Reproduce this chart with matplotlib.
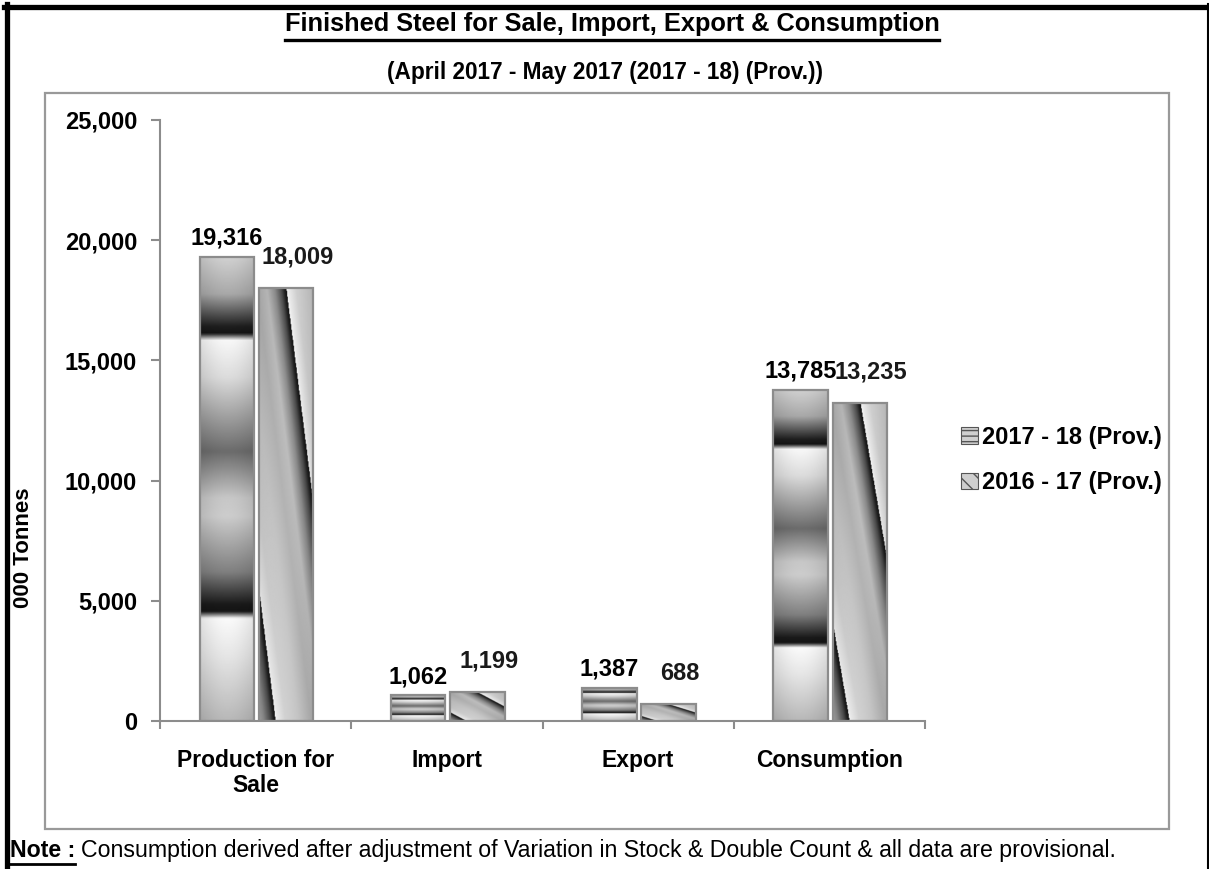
import numpy as np
import matplotlib
matplotlib.use('Agg')
import matplotlib.pyplot as plt
from matplotlib.patches import Rectangle, Patch
from matplotlib.lines import Line2D

# data
categories = ['Production for\nSale', 'Import', 'Export', 'Consumption']
series_names = ['2017 - 18 (Prov.)', '2016 - 17 (Prov.)']
vals_1718 = [19316, 1062, 1387, 13785]
vals_1617 = [18009, 1199, 688, 13235]
yticks = [0, 5000, 10000, 15000, 20000, 25000]

plt.rcParams['font.family'] = ['Liberation Sans Narrow', 'Liberation Sans', 'DejaVu Sans']
plt.rcParams['font.weight'] = 'bold'

W, H = 1209, 869
fig = plt.figure(figsize=(W / 100, H / 100), dpi=100)
ax = fig.add_axes([160 / W, 1 - 721 / H, (925 - 160) / W, (721 - 120) / H])


# metallic shading of the bars (style only)
def band_profile(t):
    kp = [0, .08, .15, .165, .18, .26, .42, .52, .56, .68, .75, .765, .78, .86, 1]
    gv = [.82, .66, .12, .08, .97, .86, .42, .78, .8, .5, .1, .08, .98, .9, .72]
    return np.interp(t, kp, gv)


def stripe_profile(p):
    kp = [0, .03, .15, .35, .55, .7, .82, .92, .97, 1]
    gv = [.97, .92, .82, .78, .7, .74, .55, .3, .12, .08]
    return np.interp(p, kp, gv)


t = np.linspace(0, 1, 300)[:, None]
s = np.linspace(0, 1, 80)[None, :]
img_a = band_profile(t) * (0.9 + 0.1 * np.sin(np.pi * s))
img_b = stripe_profile(((s - t - 0.5) / 1.2) % 1) * (0.92 + 0.08 * np.sin(np.pi * s))

x = np.arange(len(categories))
bw = 0.285
offs = [-0.15, 0.16]
edge = '#8c8c8c'

for vals, off, img in [(vals_1718, offs[0], img_a), (vals_1617, offs[1], img_b)]:
    bars = ax.bar(x + off, vals, bw, facecolor='none', edgecolor=edge, linewidth=1.6, zorder=3)
    for b in bars:
        x0, w, h = b.get_x(), b.get_width(), b.get_height()
        im = ax.imshow(img, cmap='gray', vmin=0, vmax=1, aspect='auto',
                       extent=(x0, x0 + w, 0, h), origin='upper', zorder=2,
                       interpolation='bilinear')
        im.set_clip_path(b)

# data labels
for i, v in enumerate(vals_1718):
    ax.annotate(f'{v:,}', (x[i] + offs[0], v), xytext=(0, 5), textcoords='offset points',
                ha='center', va='bottom', fontsize=17)
for i, v in enumerate(vals_1617):
    ax.annotate(f'{v:,}', (x[i] + offs[1], v), xytext=(8, 14), textcoords='offset points',
                ha='center', va='bottom', fontsize=17, color='#1a1a1a')

ax.set_xlim(-0.5, len(categories) - 0.5)
ax.set_ylim(0, 25000)
ax.set_yticks(yticks)
ax.set_yticklabels([f'{v:,}' for v in yticks], fontsize=17)
ax.set_xticks(x)
ax.set_xticklabels(categories, fontsize=16.5, linespacing=1.1)
ax.set_xticks(np.arange(len(categories) + 1) - 0.5, minor=True)
ax.tick_params(axis='x', which='major', length=0, pad=20)
ax.tick_params(axis='x', which='minor', length=6, width=1.5, color=edge, direction='out')
ax.tick_params(axis='y', length=6.5, width=1.5, color=edge, direction='out', pad=10)
for sp in ['top', 'right']:
    ax.spines[sp].set_visible(False)
for sp in ['left', 'bottom']:
    ax.spines[sp].set_color(edge)
    ax.spines[sp].set_linewidth(1.5)
ax.set_facecolor('none')

fig.text(24 / W, 1 - 548 / H, '000 Tonnes', rotation=90, ha='center', va='center', fontsize=16)

# legend
handles = [Patch(facecolor='#cfcfcf', edgecolor='#555555', hatch='---', lw=0.8),
           Patch(facecolor='#cfcfcf', edgecolor='#555555', hatch='\\\\', lw=0.8)]
fig.legend(handles, series_names, loc='center left', bbox_to_anchor=(940 / W, 1 - 460 / H),
           frameon=False, fontsize=17, handlelength=0.7, handleheight=0.7,
           handletextpad=0.2, labelspacing=0.95)

# titles
title = fig.text(612 / W, 1 - 24 / H, 'Finished Steel for Sale, Import, Export & Consumption',
                 ha='center', va='center', fontsize=18.3)
fig.text(605 / W, 1 - 73 / H, '(April 2017 - May 2017 (2017 - 18) (Prov.))',
         ha='center', va='center', fontsize=16.3)

# note
note = fig.text(10 / W, 1 - 857 / H, 'Note :', ha='left', va='baseline', fontsize=16.7)
ax.annotate('Consumption derived after adjustment of Variation in Stock & Double Count & all data are provisional.',
            xy=(1, 0), xycoords=note, xytext=(4, 0), textcoords='offset points',
            ha='left', va='bottom', fontsize=16.7, fontweight='normal', annotation_clip=False)

# frames
fig.add_artist(Rectangle((45 / W, 1 - 829 / H), (1169 - 45) / W, (829 - 93) / H,
                         transform=fig.transFigure, fill=False, edgecolor='#999999', lw=1.6))
fig.add_artist(Line2D([6.5 / W, 6.5 / W], [0, 1 - 4 / H], color='black', lw=3.8, transform=fig.transFigure))
fig.add_artist(Line2D([4 / W, 1], [1 - 6.5 / H, 1 - 6.5 / H], color='black', lw=3.8, transform=fig.transFigure))
fig.add_artist(Line2D([1207.5 / W, 1207.5 / W], [0, 1 - 4 / H], color='black', lw=1.5, transform=fig.transFigure))

# underlines
fig.canvas.draw()
r = fig.canvas.get_renderer()
for txt, lw, gap in [(title, 2.4, 4), (note, 2.0, 2)]:
    bb = txt.get_window_extent(r)
    fig.add_artist(Line2D([bb.x0, bb.x1], [bb.y0 - gap, bb.y0 - gap], color='black', lw=lw, transform=None))

fig.savefig('out.png', dpi=100)
